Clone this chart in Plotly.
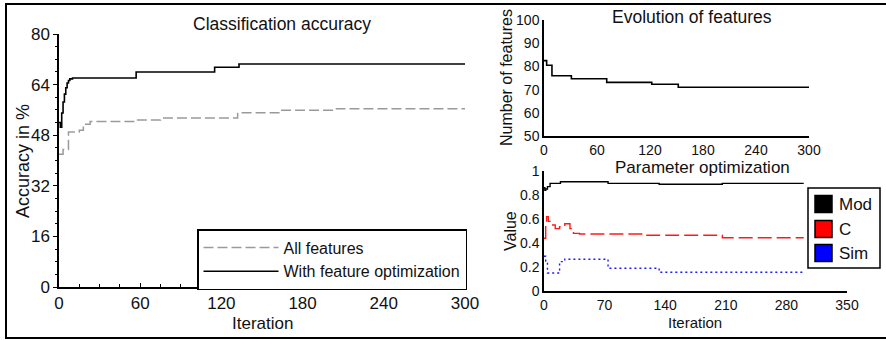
import plotly.graph_objects as go

W, H = 886, 340
FONT = "Liberation Sans, Arial, sans-serif"
TXT = "#111111"

# ---- Classification accuracy ----
iter_opt = [0, 1, 2, 3, 4, 5, 6, 7, 8, 10, 57, 115, 133, 300]
acc_opt = [52, 50.5, 55, 58.5, 61, 63, 64.5, 65.3, 65.8, 66.1, 68.0, 69.5, 70.5, 70.5]
iter_all = [0, 3, 7, 15, 18, 23, 57, 75, 132, 163, 205, 300]
acc_all = [42, 43.5, 49, 49.6, 51.5, 52.3, 52.8, 53.4, 55.1, 55.9, 56.4, 56.4]
acc_ticks = [0, 16, 32, 48, 64, 80]
iter_ticks = [0, 60, 120, 180, 240, 300]

# ---- Evolution of features ----
iter_feat = [0, 3, 9, 31, 71, 122, 152, 300]
n_feat = [82.5, 80.5, 76, 74.7, 73.1, 72.3, 71, 71]
feat_ticks = [50, 60, 70, 80, 90, 100]

# ---- Parameter optimization ----
iter_mod = [0, 1, 2, 4, 7, 19, 74, 133, 206, 300]
val_mod = [0.86, 0.84, 0.85, 0.87, 0.897, 0.91, 0.897, 0.889, 0.897, 0.897]
iter_c = [0, 2, 3, 5, 8, 13, 18, 24, 30, 34, 41, 114, 206, 300]
val_c = [0.44, 0.55, 0.62, 0.58, 0.55, 0.52, 0.535, 0.56, 0.52, 0.48, 0.475, 0.465, 0.444, 0.444]
iter_sim = [0, 2, 4, 18, 24, 74, 133, 300]
val_sim = [0.29, 0.25, 0.15, 0.245, 0.265, 0.19, 0.156, 0.156]
par_xticks = [0, 70, 140, 210, 280, 350]
par_yticks = [0, 0.2, 0.4, 0.6, 0.8, 1]
par_ylabels = ["0", "0.2", "0.4", "0.6", "0.8", "1"]
par_names = ["Mod", "C", "Sim"]
par_colors = ["#000000", "#ff0000", "#0000ff"]


def px(x):
    return x / W


def py(y):
    return 1 - y / H


fig = go.Figure()

fig.add_trace(go.Scatter(x=iter_all, y=acc_all, mode="lines", line_shape="hv",
                         name="All features", legend="legend",
                         line=dict(color="#9a9a9a", width=1.5, dash="10px,4px"),
                         xaxis="x", yaxis="y"))
fig.add_trace(go.Scatter(x=iter_opt, y=acc_opt, mode="lines", line_shape="hv",
                         name="With feature optimization", legend="legend",
                         line=dict(color="#000000", width=1.6),
                         xaxis="x", yaxis="y"))

fig.add_trace(go.Scatter(x=iter_feat, y=n_feat, mode="lines", line_shape="hv",
                         showlegend=False, line=dict(color="#000000", width=1.6),
                         xaxis="x2", yaxis="y2"))

fig.add_trace(go.Scatter(x=iter_mod, y=val_mod, mode="lines", line_shape="hv",
                         name=par_names[0], showlegend=False,
                         line=dict(color=par_colors[0], width=1.4),
                         xaxis="x3", yaxis="y3"))
fig.add_trace(go.Scatter(x=iter_c, y=val_c, mode="lines", line_shape="hv",
                         name=par_names[1], showlegend=False,
                         line=dict(color="#ff1a1a", width=1.4, dash="14px,5px"),
                         xaxis="x3", yaxis="y3"))
fig.add_trace(go.Scatter(x=iter_sim, y=val_sim, mode="lines", line_shape="hv",
                         name=par_names[2], showlegend=False,
                         line=dict(color="#1a1aff", width=1.4, dash="2px,3px"),
                         xaxis="x3", yaxis="y3"))

tickfont_l = dict(family=FONT, size=17, color=TXT)
tickfont_r = dict(family=FONT, size=14, color=TXT)

common = dict(showline=True, linecolor="black", linewidth=1.5, showgrid=False,
              zeroline=False, automargin=False)

fig.update_layout(
    template="none",
    width=W, height=H, margin=dict(l=0, r=0, t=0, b=0, autoexpand=False),
    paper_bgcolor="white", plot_bgcolor="white",
    font=dict(family=FONT, color=TXT),
    xaxis=dict(domain=[px(59), px(465)], range=[0, 300], tickvals=iter_ticks,
               ticks="inside", ticklen=4, tickcolor="black", tickfont=tickfont_l,
               minor=dict(dtick=15, ticks="inside", ticklen=3, tickcolor="black"),
               anchor="y", **common),
    yaxis=dict(domain=[py(287), py(34)], range=[0, 80], tickvals=acc_ticks,
               ticks="outside", ticklen=4, tickcolor="black", tickfont=tickfont_l,
               minor=dict(dtick=4, ticks="outside", ticklen=2, tickcolor="black"),
               anchor="x", **common),
    xaxis2=dict(domain=[px(544), px(809)], range=[0, 300], tickvals=iter_ticks,
                ticks="", tickfont=tickfont_r, anchor="y2", **common),
    yaxis2=dict(domain=[py(136), py(20)], range=[50, 100], tickvals=feat_ticks,
                ticks="", tickfont=tickfont_r, anchor="x2", **common),
    xaxis3=dict(domain=[px(544), px(847)], range=[0, 350], tickvals=par_xticks,
                ticks="", tickfont=tickfont_r, anchor="y3", **common),
    yaxis3=dict(domain=[py(291), py(171)], range=[0, 1], tickvals=par_yticks, ticktext=par_ylabels,
                ticks="", tickfont=tickfont_r, anchor="x3", **common),
    legend=dict(x=px(197), y=py(229), xanchor="left", yanchor="top",
                bordercolor="black", borderwidth=1.5, bgcolor="white",
                font=dict(family=FONT, size=16, color=TXT), itemwidth=75,
                traceorder="normal"),
    showlegend=True,
)

ann = [
    ("Classification accuracy", 282, 24, 17.5, 0),
    ("Iteration", 262, 323, 17, 0),
    ("Accuracy in %", 23, 161, 18, -90),
    ("Evolution of features", 692, 17, 17.5, 0),
    ("Number of features", 507, 78, 16, -90),
    ("Parameter optimization", 702, 167.5, 17, 0),
    ("Value", 510, 231, 16, -90),
    ("Iteration", 695, 322, 15, 0),
]
for text, x, y, size, ang in ann:
    fig.add_annotation(text=text, x=px(x), y=py(y), xref="paper", yref="paper",
                       showarrow=False, xanchor="center", yanchor="middle", textangle=ang,
                       font=dict(family=FONT, size=size, color=TXT))

# legend box for the parameter panel (decoration)
fig.add_shape(type="rect", xref="paper", yref="paper",
              x0=px(808), x1=px(880), y0=py(268), y1=py(188),
              line=dict(color="black", width=1.5), fillcolor="white")
row_y = [204, 229, 253]
for name, col, ry in zip(par_names, par_colors, row_y):
    fig.add_shape(type="rect", xref="paper", yref="paper",
                  x0=px(815), x1=px(832), y0=py(ry + 8.5), y1=py(ry - 8.5),
                  line=dict(color="black", width=1.5), fillcolor=col)
    fig.add_annotation(text=name, x=px(837), y=py(ry), xref="paper", yref="paper",
                       showarrow=False, xanchor="left", yanchor="middle",
                       font=dict(family=FONT, size=17, color=TXT))

fig.add_shape(type="rect", xref="paper", yref="paper",
              x0=px(6), x1=px(890), y0=py(338), y1=py(4),
              line=dict(color="black", width=2), layer="below")

fig.write_html("out.html", config={"displayModeBar": False},
               post_script="document.body.style.margin='0px';")
